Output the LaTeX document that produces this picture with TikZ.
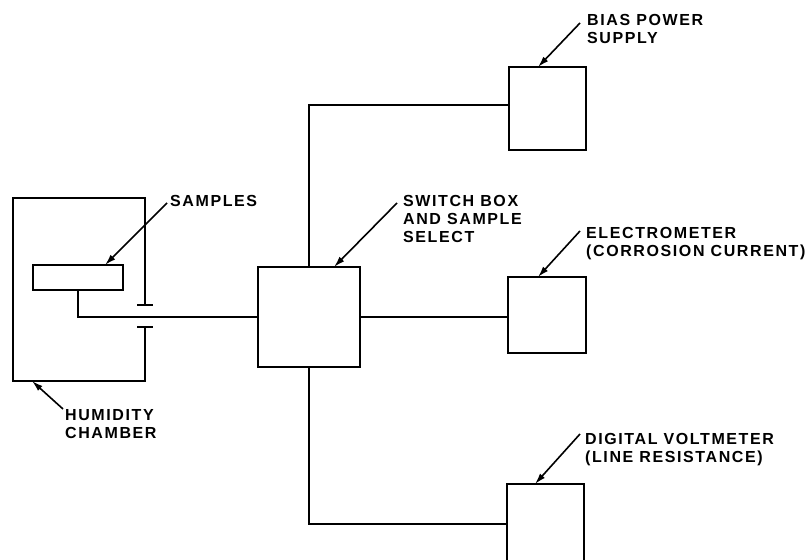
\documentclass[tikz,border=0pt]{standalone}
\usepackage{fontspec}
\setmainfont{Liberation Sans}[LetterSpace=10]
\usetikzlibrary{arrows.meta,calc}
\begin{document}
\begin{tikzpicture}[x=1pt,y=-1pt,
  wire/.style={line width=2.3pt},
  unit/.style={draw, line width=2.3pt, inner sep=0pt, outer sep=0pt},
  lbl/.style={anchor=north west, inner sep=0pt, align=left,
    font=\fontsize{16}{18}\selectfont\bfseries},
  leader/.style={line width=1.6pt, -{Latex[length=11pt,width=6.5pt]}}]
\clip (0,0) rectangle (810,559);
\fill[white] (0,0) rectangle (810,559);
% boxes
\node[unit, minimum width=102pt, minimum height=100pt] (switch) at (309,317) {};
\node[unit, minimum width=77pt, minimum height=83pt] (bias) at (547.5,108.5) {};
\node[unit, minimum width=78pt, minimum height=76pt] (elec) at (547,315) {};
\node[unit, minimum width=77pt, minimum height=100pt] (dvm) at (545.5,534) {};
\node[unit, minimum width=90pt, minimum height=25pt] (samples) at (78,277.5) {};
\node[minimum width=132pt, minimum height=183pt, inner sep=0pt, outer sep=0pt] (chamber) at (79,289.5) {};
% humidity chamber with capacitor gap
\coordinate (capA) at ($(chamber.north east)+(0,107)$);
\coordinate (capB) at ($(chamber.south east)+(0,-54)$);
\draw[wire] (capA) -- (chamber.north east) -- (chamber.north west)
  -- (chamber.south west) -- (chamber.south east) -- (capB);
\draw[wire] ($(capA)+(-8,0)$) -- ($(capA)+(8,0)$);
\draw[wire] ($(capB)+(-8,0)$) -- ($(capB)+(8,0)$);
% connections
\coordinate (biasin) at ($(bias.north west)+(0,38)$);
\coordinate (dvmin) at ($(dvm.north west)+(0,40)$);
\draw[wire] (samples.south) |- (switch.west);
\draw[wire] (switch.north) |- (biasin);
\draw[wire] (switch.east) -- (switch.east -| elec.west);
\draw[wire] (switch.south) |- (dvmin);
% labels
\node[lbl] (biasL) at (587,14) {BIAS POWER\\SUPPLY};
\node[lbl] (switchL) at (403,195) {SWITCH BOX\\AND SAMPLE\\SELECT};
\node[lbl] (samplesL) at (170,195) {SAMPLES};
\node[lbl] (humL) at (65,409) {HUMIDITY\\CHAMBER};
\node[lbl] (elecL) at (586,227) {ELECTROMETER\\(CORROSION CURRENT)};
\node[lbl] (dvmL) at (585,433) {DIGITAL VOLTMETER\\(LINE RESISTANCE)};
% leaders
\draw[leader] ($(biasL.north west)+(-7,9)$) -- ($(bias.north west)+(29,0)$);
\draw[leader] ($(switchL.north west)+(-6,8)$) -- ($(switch.north west)+(76,0)$);
\draw[leader] ($(samplesL.north west)+(-3,8)$) -- ($(samples.north west)+(72,0)$);
\draw[leader] ($(humL.north west)+(-2,0)$) -- ($(chamber.south west)+(19,0)$);
\draw[leader] ($(elecL.north west)+(-6,4)$) -- ($(elec.north west)+(30,0)$);
\draw[leader] ($(dvmL.north west)+(-5,1)$) -- ($(dvm.north west)+(28,0)$);
\end{tikzpicture}
\end{document}
